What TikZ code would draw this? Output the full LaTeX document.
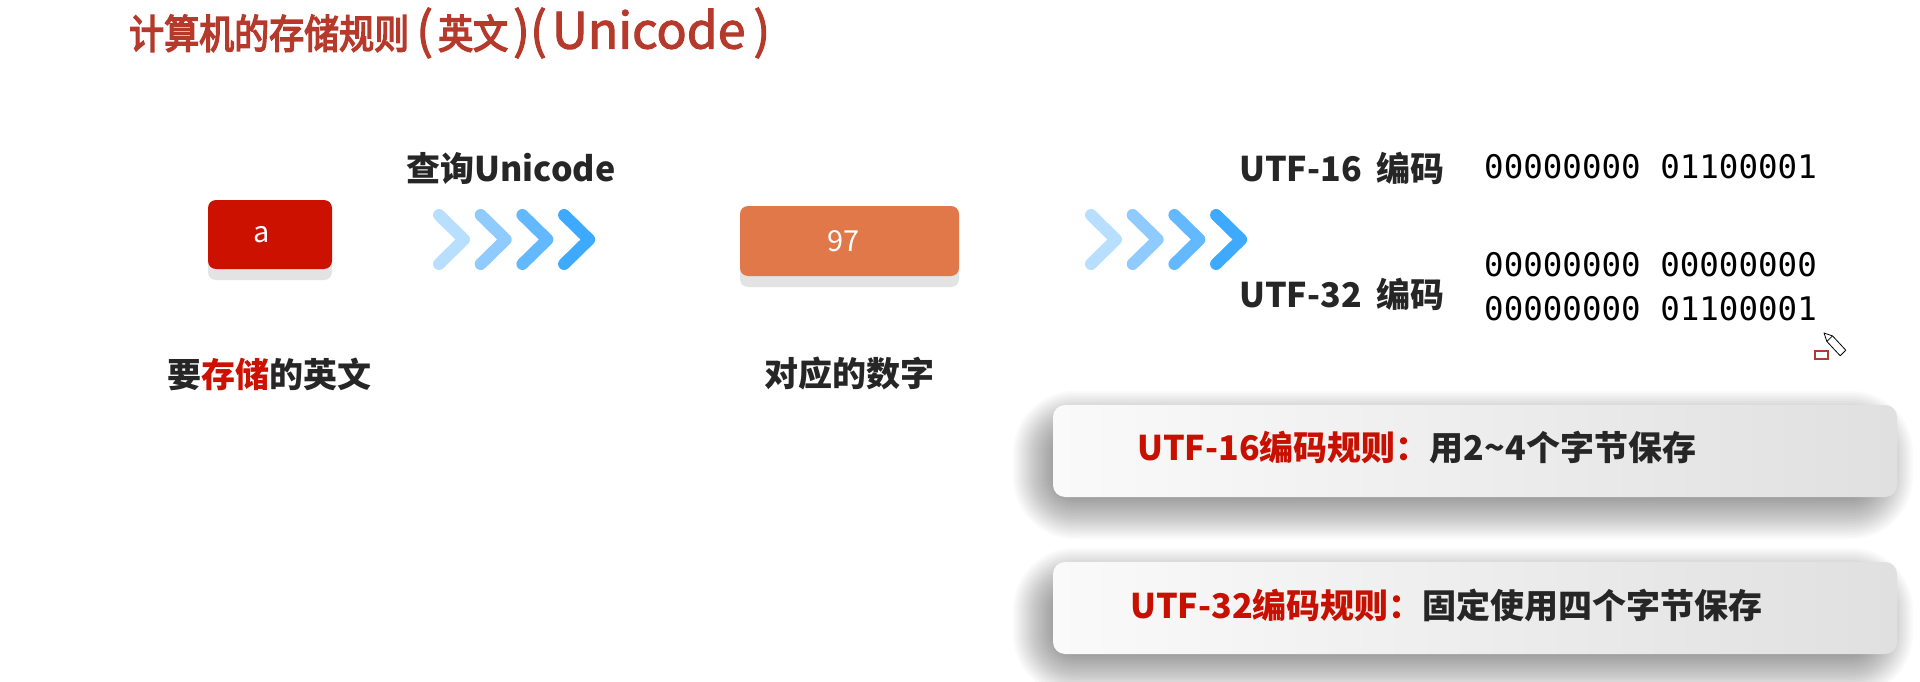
\documentclass[tikz,border=0pt]{standalone}
\usepackage{graphicx}
\usepackage{fontspec}
\setmainfont{Noto Sans CJK SC}
\newfontfamily\titlefont[FakeBold=2]{Noto Sans CJK SC}
\newfontfamily\titlecjk[FakeBold=4]{Noto Sans CJK SC}
\newfontfamily\binfont{DejaVu Sans Mono}
\usetikzlibrary{shadows}
\definecolor{titlered}{RGB}{182,58,44}
\definecolor{boxred}{RGB}{204,17,0}
\definecolor{boxorange}{RGB}{224,120,74}
\definecolor{txtred}{RGB}{200,16,0}
\definecolor{txtdark}{RGB}{38,38,38}
\definecolor{chevA}{RGB}{184,223,255}
\definecolor{chevB}{RGB}{143,203,255}
\definecolor{chevC}{RGB}{99,185,255}
\definecolor{chevD}{RGB}{61,170,255}
\definecolor{cardL}{RGB}{250,250,250}
\definecolor{cardR}{RGB}{224,224,224}
\definecolor{cursred}{RGB}{170,60,50}
\newcommand{\tcjk}[1]{\scalebox{0.875}[1]{\titlecjk\fontsize{40pt}{46pt}\selectfont #1}}
\newcommand{\tlat}[1]{{\fontsize{50pt}{56pt}\selectfont #1}}
\tikzset{
  valbox/.style={rounded corners=8pt, inner sep=0pt, text=white,
    font=\fontsize{29pt}{34pt}\selectfont,
    drop shadow={shadow xshift=0pt, shadow yshift=-11pt, fill=black!11, opacity=1}},
  lbl/.style={inner sep=0pt, text=txtdark, font=\fontsize{34pt}{40pt}\selectfont\bfseries},
  bin/.style={inner sep=0pt, anchor=west, text=black, font=\fontsize{32.5pt}{38pt}\selectfont\binfont},
  card/.style={rounded corners=12pt, inner sep=0pt, left color=cardL, right color=cardR,
    minimum width=844pt, minimum height=92pt},
  cardtxt/.style={inner sep=0pt, anchor=west, text=txtdark, font=\fontsize{34pt}{40pt}\selectfont\bfseries},
  chev/.style={line width=12pt, line cap=round, line join=round}
}
\begin{document}
\begin{tikzpicture}[x=1pt,y=-1pt]
\useasboundingbox[fill=white] (0,0) rectangle (1920,682);

% title
\node[inner sep=0pt, anchor=west, text=titlered, font=\titlefont] (title) at (129,33)
  {\tcjk{计算机的存储规则}\hspace{7pt}\tlat{(}\hspace{5pt}\tcjk{英文}\hspace{5pt}\tlat{)(}\hspace{5pt}\tlat{Unicode}\hspace{8pt}\tlat{)}};

% value boxes
\node[valbox, fill=boxred, minimum width=124pt, minimum height=69pt] (a) at (270,234.5) {a\hspace*{16pt}};
\node[valbox, fill=boxorange, minimum width=219pt, minimum height=70pt] (v97) at (849.5,241) {97\hspace*{12pt}};

% labels
\node[lbl] (la) at (269,374) {要{\color{boxred}存储}的英文};
\node[lbl] (l97) at (849,374) {对应的数字};
\node[lbl] (query) at (511,168) {查询Unicode};

% chevrons
\coordinate (ch1) at (439,215);
\coordinate (ch2) at (1091,215);
\foreach \c [count=\i from 0] in {chevA,chevB,chevC,chevD}{
  \draw[chev, \c] ([xshift=41.7*\i pt]ch1) -- ++(25,24.5) -- ++(-25,24.5);
  \draw[chev, \c] ([xshift=41.7*\i pt]ch2) -- ++(25,24.5) -- ++(-25,24.5);
}

% encodings
\node[lbl, anchor=west] (u16) at (1239,168) {UTF-16\hspace{7pt} 编码};
\node[lbl, anchor=west] (u32) at (1239,294) {UTF-32\hspace{7pt} 编码};
\node[bin] (b16) at (1484,166.5) {00000000 01100001};
\node[bin] (b32a) at (1484,265) {00000000 00000000};
\node[bin] (b32b) at (1484,308.5) {00000000 01100001};

% card shadows (soft, offset down-left)
\foreach \yy in {405,562}{
  \foreach \k in {0,...,29}{
    \pgfmathsetmacro\r{-30+\k*2}
    \pgfmathsetmacro\rr{max(\r+34,2)}
    \fill[black, opacity=0.0197, rounded corners=\rr pt]
      (1041-\r,\yy+14-\r) rectangle (1885+\r,\yy+106+\r);
  }
}
% cards
\node[card] (c1) at (1475,451) {};
\node[card] (c2) at (1475,608) {};
\node[cardtxt] (t1) at (1137,448) {{\color{txtred}UTF-16编码规则：}用2{\char"7E}4个字节保存};
\node[cardtxt] (t2) at (1130,605) {{\color{txtred}UTF-32编码规则：}固定使用四个字节保存};

% cursor
\draw[cursred, fill=white, line width=1.2pt] (1815,351) rectangle (1828,359);
\draw[black, fill=white, line width=0.8pt, line join=round]
  (1824,333) -- (1832.5,335.9) -- (1845.8,350.2) -- (1840.2,355.8) -- (1826.9,341.5) -- cycle
  (1832.5,335.9) -- (1826.9,341.5);
\end{tikzpicture}
\end{document}
